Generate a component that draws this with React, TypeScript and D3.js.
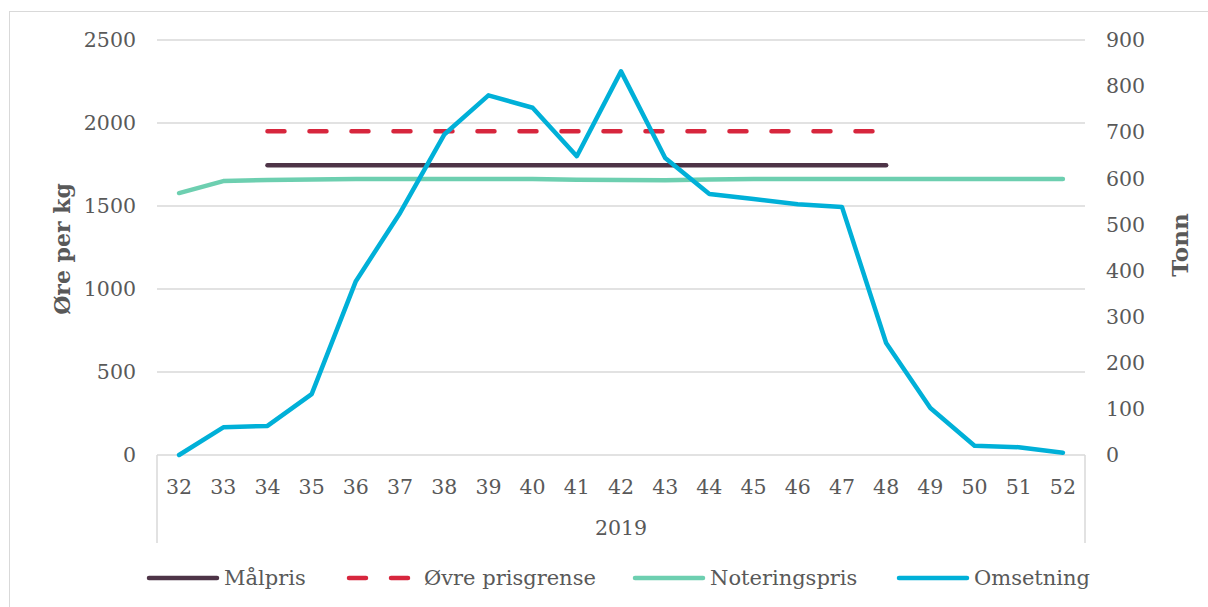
import React from "react";
import * as d3 from "d3";

// Weeks 2019
const weeks = [32, 33, 34, 35, 36, 37, 38, 39, 40, 41, 42, 43, 44, 45, 46, 47, 48, 49, 50, 51, 52];

// Øre per kg (left axis); null = no value that week
const malpris = [null, null, 1745, 1745, 1745, 1745, 1745, 1745, 1745, 1745, 1745, 1745, 1745, 1745, 1745, 1745, 1745, null, null, null, null];
const ovrePrisgrense = [null, null, 1950, 1950, 1950, 1950, 1950, 1950, 1950, 1950, 1950, 1950, 1950, 1950, 1950, 1950, 1950, null, null, null, null];
const noteringspris = [1578, 1650, 1657, 1660, 1662, 1662, 1662, 1662, 1662, 1658, 1657, 1655, 1660, 1662, 1662, 1663, 1663, 1663, 1663, 1663, 1663];

// Tonn (right axis)
const omsetning = [0, 60, 63, 132, 377, 525, 695, 780, 753, 648, 832, 644, 566, 555, 544, 538, 243, 102, 20, 17, 5];

const leftTicks = [0, 500, 1000, 1500, 2000, 2500];
const rightTicks = [0, 100, 200, 300, 400, 500, 600, 700, 800, 900];

const textColor = "#595959";
const font = "'DejaVu Serif', serif";

const series = [
  { name: "Målpris", values: malpris, color: "#4e3447", dash: null, axis: "left" },
  { name: "Øvre prisgrense", values: ovrePrisgrense, color: "#d7263d", dash: "17,25", axis: "left" },
  { name: "Noteringspris", values: noteringspris, color: "#6dcfb0", dash: null, axis: "left" },
  { name: "Omsetning", values: omsetning, color: "#00b0d8", dash: null, axis: "right" },
];

const legendX = [147, 347, 633, 897];

const App = () => {
  const width = 1208;
  const height = 607;
  const left = 157;
  const right = 1085;
  const top = 40;
  const bottom = 455;

  const x = d3.scaleBand<number>().domain(weeks).range([left, right]);
  const yL = d3.scaleLinear().domain([0, 2500]).range([bottom, top]);
  const yR = d3.scaleLinear().domain([0, 900]).range([bottom, top]);
  const cx = (w: number) => (x(w) as number) + x.bandwidth() / 2;

  return (
    <svg
      width={width}
      height={height}
      style={{ position: "absolute", left: 0, top: 0, background: "#fff" }}
      fontFamily={font}
    >
      <rect x={9.5} y={11.5} width={1205} height={600} fill="#fff" stroke="#d9d9d9" />

      {/* gridlines */}
      {leftTicks.map((t) => (
        <line key={t} x1={left} x2={right} y1={yL(t)} y2={yL(t)} stroke="#d9d9d9" strokeWidth={1.5} />
      ))}
      {/* category axis frame */}
      <line x1={left} x2={left} y1={bottom} y2={543} stroke="#d9d9d9" strokeWidth={1.5} />
      <line x1={right} x2={right} y1={bottom} y2={543} stroke="#d9d9d9" strokeWidth={1.5} />

      {/* left ticks */}
      {leftTicks.map((t) => (
        <text key={t} x={136} y={yL(t)} dy="0.35em" textAnchor="end" fontSize={20.5} fill={textColor}>
          {t}
        </text>
      ))}
      {/* right ticks */}
      {rightTicks.map((t) => (
        <text key={t} x={1106} y={yR(t)} dy="0.35em" textAnchor="start" fontSize={20.5} fill={textColor}>
          {t}
        </text>
      ))}
      {/* week labels */}
      {weeks.map((w) => (
        <text key={w} x={cx(w)} y={487} dy="0.35em" textAnchor="middle" fontSize={20.5} fill={textColor}>
          {w}
        </text>
      ))}
      <text x={(left + right) / 2} y={528} dy="0.35em" textAnchor="middle" fontSize={20.5} fill={textColor}>
        2019
      </text>

      {/* axis titles */}
      <text
        transform={`translate(62,249) rotate(-90)`}
        dy="0.35em"
        textAnchor="middle"
        fontSize={22}
        fontWeight="bold"
        fill={textColor}
      >
        Øre per kg
      </text>
      <text
        transform={`translate(1180,245) rotate(-90)`}
        dy="0.35em"
        textAnchor="middle"
        fontSize={23}
        fontWeight="bold"
        fill={textColor}
      >
        Tonn
      </text>

      {/* series */}
      {series.map((s) => {
        const y = s.axis === "left" ? yL : yR;
        const line = d3
          .line<number | null>()
          .defined((d) => d !== null)
          .x((_, i) => cx(weeks[i]))
          .y((d) => y(d as number));
        return (
          <path
            key={s.name}
            d={line(s.values) || ""}
            fill="none"
            stroke={s.color}
            strokeWidth={4.5}
            strokeLinecap="round"
            strokeLinejoin="round"
            strokeDasharray={s.dash || undefined}
          />
        );
      })}

      {/* legend */}
      {series.map((s, i) => (
        <g key={s.name} transform={`translate(${legendX[i]},578)`}>
          <line
            x1={2}
            x2={70}
            y1={0}
            y2={0}
            stroke={s.color}
            strokeWidth={4.5}
            strokeLinecap="round"
            strokeDasharray={s.dash ? "17,25" : undefined}
          />
          <text x={77} y={0} dy="0.35em" fontSize={21} fill={textColor}>
            {s.name}
          </text>
        </g>
      ))}
    </svg>
  );
};

export default App;
